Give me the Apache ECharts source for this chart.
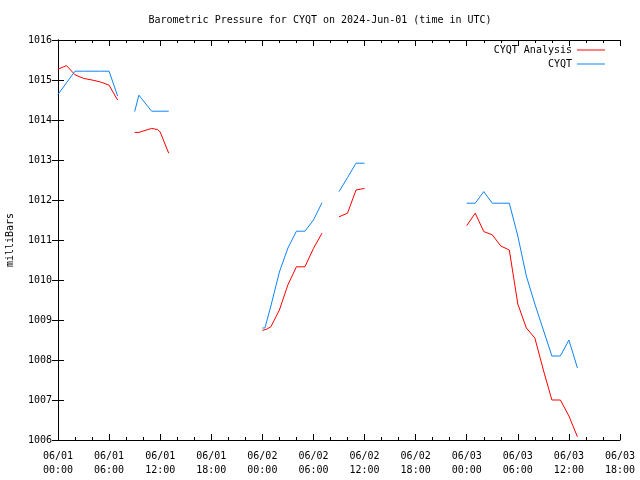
<!DOCTYPE html>
<html>
<head>
<meta charset="utf-8">
<script src="https://cdn.jsdelivr.net/npm/echarts@6/dist/echarts.min.js"></script>
<style>html,body{margin:0;padding:0;background:#fff;}#c{width:640px;height:480px;}</style>
</head>
<body>
<div id="c"></div>
<script>
// Hours since 2024-06-01 00:00 UTC; null marks a gap in the record
const analysisHours = [0,1,2,3,4,5,6,7, 8, 9,9.5,11,11.7,12,13, 14, 24,24.5,25,26,27,28,29,30,31, 32, 33,34,35,36, 37, 48,49,50,51,52,53,54,55,56,57,58,59,60,61];
const analysisValues = [1015.27,1015.36,1015.13,1015.04,1015.0,1014.95,1014.87,1014.5, null,
  1013.69,1013.69,1013.79,1013.76,1013.7,1013.17, null,
  1008.74,1008.77,1008.83,1009.25,1009.88,1010.33,1010.33,1010.79,1011.17, null,
  1011.58,1011.67,1012.25,1012.29, null,
  1011.36,1011.67,1011.21,1011.13,1010.85,1010.75,1009.4,1008.8,1008.55,1007.75,1007.0,1007.0,1006.6,1006.08];
const obsHours = [0,1,2,3,4,5,6,7, 8, 9,9.5,11,12,13, 14, 24,24.3,25,26,27,28,29,30,31, 32, 33,34,35,36, 37, 48,49,50,51,52,53,54,55,56,57,58,59,60,61];
const obsValues = [1014.64,1014.93,1015.22,1015.22,1015.22,1015.22,1015.22,1014.6, null,
  1014.21,1014.62,1014.22,1014.22,1014.22, null,
  1008.8,1008.8,1009.35,1010.2,1010.8,1011.22,1011.22,1011.5,1011.93, null,
  1012.21,1012.56,1012.92,1012.92, null,
  1011.92,1011.92,1012.21,1011.92,1011.92,1011.92,1011.1,1010.1,1009.4,1008.75,1008.1,1008.1,1008.5,1007.8];
const seriesNames = ['CYQT Analysis', 'CYQT'];
const titleText = 'Barometric Pressure for CYQT on 2024-Jun-01 (time in UTC)';
const yAxisName = 'milliBars';
const dayLabels = ['06/01', '06/02', '06/03', '06/04'];

function pairs(h, v) { return h.map((x, i) => [x, v[i] === null ? '-' : v[i]]); }
function xLabel(val) {
  const d = Math.floor(val / 24), hh = val % 24;
  return dayLabels[d] + '\n' + String(hh).padStart(2, '0') + ':00';
}
const FONT = 'DejaVu Sans Mono';
const txt = { fontFamily: FONT, fontSize: 10, color: '#000' };
const chart = echarts.init(document.getElementById('c'), null, { renderer: 'canvas' });
const xBase = {
  type: 'value', min: 0, max: 66, interval: 6,
  axisLine: { show: true, lineStyle: { color: '#000', width: 1 } },
  axisTick: { show: true, inside: true, length: 6, lineStyle: { color: '#000' } },
  minorTick: { show: true, splitNumber: 3, length: 3, lineStyle: { color: '#000' } },
  splitLine: { show: false }
};
const yBase = {
  type: 'value', min: 1006, max: 1016, interval: 1,
  axisLine: { show: true, lineStyle: { color: '#000', width: 1 } },
  axisTick: { show: true, inside: true, length: 6, lineStyle: { color: '#000' } },
  splitLine: { show: false }
};
chart.setOption({
  animation: false,
  backgroundColor: '#fff',
  title: { text: titleText, left: 'center', top: 10, textStyle: Object.assign({ fontWeight: 'normal' }, txt) },
  legend: {
    orient: 'vertical', right: 30, top: 40, align: 'right', itemGap: 4,
    itemWidth: 28, itemHeight: 1, icon: 'rect',
    textStyle: txt,
    data: seriesNames
  },
  grid: { left: 58, right: 20, top: 40, bottom: 40, containLabel: false, outerBoundsMode: 'none' },
  xAxis: [
    Object.assign({}, xBase, { position: 'bottom',
      axisLabel: Object.assign({ formatter: xLabel, margin: 9, lineHeight: 14 }, txt) }),
    Object.assign({}, xBase, { position: 'top', axisLabel: { show: false } })
  ],
  yAxis: [
    Object.assign({}, yBase, { position: 'left', name: yAxisName, nameLocation: 'middle', nameGap: 43,
      nameTextStyle: txt, axisLabel: Object.assign({ margin: 6, formatter: v => String(v) }, txt) }),
    Object.assign({}, yBase, { position: 'right', axisLabel: { show: false } })
  ],
  series: [
    { name: seriesNames[0], type: 'line', data: pairs(analysisHours, analysisValues), showSymbol: false, symbol: 'none',
      connectNulls: false, color: '#ff0000', lineStyle: { color: '#ff0000', width: 1 } },
    { name: seriesNames[1], type: 'line', data: pairs(obsHours, obsValues), showSymbol: false, symbol: 'none',
      connectNulls: false, color: '#0f84f5', lineStyle: { color: '#0f84f5', width: 1 } }
  ]
});
</script>
</body>
</html>
